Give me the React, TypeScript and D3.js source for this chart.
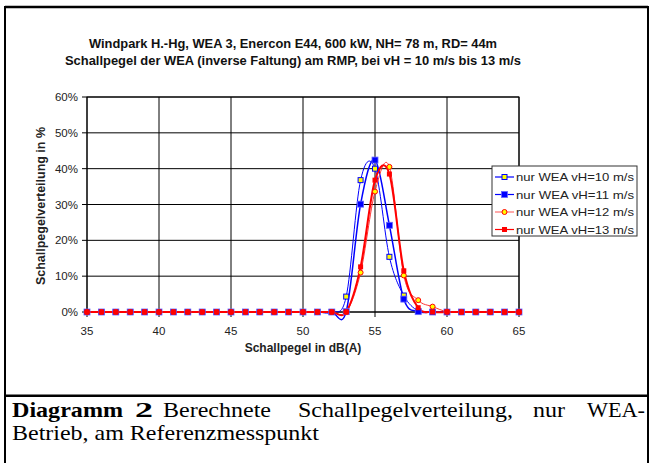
import React from "react";
import * as d3 from "d3";

const levels = [35, 36, 37, 38, 39, 40, 41, 42, 43, 44, 45, 46, 47, 48, 49, 50, 51, 52, 53, 54, 55, 56, 57, 58, 59, 60, 61, 62, 63, 64, 65];
const s10 = [0, 0, 0, 0, 0, 0, 0, 0, 0, 0, 0, 0, 0, 0, 0, 0, 0, 0, 4.3, 36.8, 40.0, 15.4, 4.6, 0.3, 0, 0, 0, 0, 0, 0, 0];
const s11 = [0, 0, 0, 0, 0, 0, 0, 0, 0, 0, 0, 0, 0, 0, 0, 0, 0, 0, 0.1, 30.1, 42.4, 24.2, 3.6, 0.1, 0, 0, 0, 0, 0, 0, 0];
const s12 = [0, 0, 0, 0, 0, 0, 0, 0, 0, 0, 0, 0, 0, 0, 0, 0, 0, 0, 0, 11.0, 33.6, 40.5, 10.2, 3.3, 1.5, 0.1, 0, 0, 0, 0, 0];
const s13 = [0, 0, 0, 0, 0, 0, 0, 0, 0, 0, 0, 0, 0, 0, 0, 0, 0, 0, 0, 12.6, 36.8, 38.5, 11.5, 1.2, 0, 0, 0, 0, 0, 0, 0];
const seriesNames = ["nur WEA vH=10 m/s", "nur WEA vH=11 m/s", "nur WEA vH=12 m/s", "nur WEA vH=13 m/s"];
const xTicks = [35, 40, 45, 50, 55, 60, 65];
const yTicks = [0, 10, 20, 30, 40, 50, 60];
const titleLines = [
  "Windpark H.-Hg, WEA 3, Enercon E44, 600 kW, NH= 78 m, RD= 44m",
  "Schallpegel der WEA (inverse Faltung) am RMP, bei vH = 10 m/s bis 13 m/s",
];
const xTitle = "Schallpegel in dB(A)";
const yTitle = "Schallpegelverteilung in %";

const SANS = "Liberation Sans, Arial, sans-serif";
const SERIF = "Liberation Serif, Times New Roman, Times, Tinos, serif";

type Style = { color: string; width: number; marker: "sqOpen" | "sqFill" | "circOpen" | "sqRed" };
const styles: Style[] = [
  { color: "#0000ff", width: 1, marker: "sqOpen" },
  { color: "#0000ff", width: 1.5, marker: "sqFill" },
  { color: "#ff3333", width: 1, marker: "circOpen" },
  { color: "#ff0000", width: 2, marker: "sqRed" },
];

function Marker({ kind, cx, cy }: { kind: Style["marker"]; cx: number; cy: number }) {
  if (kind === "sqOpen")
    return <rect x={cx - 2.5} y={cy - 2.5} width={5} height={5} fill="#ffff00" stroke="#0000ff" strokeWidth={1} />;
  if (kind === "sqFill")
    return <rect x={cx - 3} y={cy - 3} width={6} height={6} fill="#0000ff" stroke="#6666ff" strokeWidth={0.8} />;
  if (kind === "circOpen")
    return <circle cx={cx} cy={cy} r={2.5} fill="#ffff00" stroke="#ff0000" strokeWidth={1} />;
  return <rect x={cx - 2.5} y={cy - 2.5} width={5} height={5} fill="#ff0000" />;
}

export default function App() {
  const x = d3.scaleLinear().domain([35, 65]).range([87, 519]);
  const y = d3.scaleLinear().domain([0, 60]).range([312, 97]);
  const all = [s10, s11, s12, s13];
  const line = d3
    .line<number>()
    .x((_, i) => x(levels[i]))
    .y((d) => y(d))
    .curve(d3.curveCardinal.tension(0));

  const legendRows = [177, 194.5, 212, 229.5];

  return (
    <svg width={650} height={463} style={{ position: "absolute", left: 0, top: 0, background: "#fff" }}>
      <rect x={0} y={0} width={650} height={463} fill="#fff" />
      {/* frame */}
      <line x1={5} y1={7} x2={648} y2={7} stroke="#000" strokeWidth={2.5} />
      <line x1={5} y1={6} x2={5} y2={463} stroke="#000" strokeWidth={2} />
      <line x1={648} y1={6} x2={648} y2={463} stroke="#000" strokeWidth={2} />
      <line x1={5} y1={395.7} x2={648} y2={395.7} stroke="#000" strokeWidth={2.5} />

      {/* title */}
      {titleLines.map((t, i) => (
        <text
          key={i}
          x={293}
          y={[48, 65][i]}
          textAnchor="middle"
          fontFamily={SANS}
          fontWeight="bold"
          fontSize={12}
          fill="#111"
          textLength={[408, 456][i]}
          lengthAdjust="spacingAndGlyphs"
        >
          {t}
        </text>
      ))}

      {/* plot area */}
      <rect x={87} y={97} width={432} height={215} fill="#fff" stroke="#000" strokeWidth={1} />
      {yTicks.map((t) => (
        <g key={"y" + t}>
          <line x1={82} x2={519} y1={y(t)} y2={y(t)} stroke="#000" strokeWidth={1} />
          <text x={78} y={y(t) + 4} textAnchor="end" fontFamily={SANS} fontSize={11.5} fill="#222">
            {t + "%"}
          </text>
        </g>
      ))}
      {xTicks.map((t) => (
        <g key={"x" + t}>
          <line x1={x(t)} x2={x(t)} y1={97} y2={317} stroke="#000" strokeWidth={1} />
          <text x={x(t)} y={335} textAnchor="middle" fontFamily={SANS} fontSize={11.5} fill="#222">
            {t}
          </text>
        </g>
      ))}
      <text x={303} y={352} textAnchor="middle" fontFamily={SANS} fontWeight="bold" fontSize={12} fill="#222">
        {xTitle}
      </text>
      <text
        transform="translate(45,206) rotate(-90)"
        textAnchor="middle"
        fontFamily={SANS}
        fontWeight="bold"
        fontSize={12}
        fill="#222"
        textLength={158}
        lengthAdjust="spacingAndGlyphs"
      >
        {yTitle}
      </text>

      {/* series */}
      {all.map((s, si) => (
        <g key={"s" + si}>
          <path d={line(s) || ""} fill="none" stroke={styles[si].color} strokeWidth={styles[si].width} />
        </g>
      ))}
      {all.map((s, si) => (
        <g key={"m" + si}>
          {s.map((v, i) => (
            <Marker key={i} kind={styles[si].marker} cx={x(levels[i])} cy={y(v)} />
          ))}
        </g>
      ))}

      {/* legend */}
      <rect x={492} y={166} width={145} height={70} fill="#fff" stroke="#333" strokeWidth={1} />
      {seriesNames.map((n, i) => (
        <g key={"l" + i}>
          <line x1={495} x2={514} y1={legendRows[i]} y2={legendRows[i]} stroke={i === 2 ? "#ff7070" : styles[i].color} strokeWidth={1.2} />
          <Marker kind={styles[i].marker} cx={504.5} cy={legendRows[i]} />
          <text
            x={516}
            y={legendRows[i] + 4}
            fontFamily={SANS}
            fontSize={11.5}
            fill="#222"
            textLength={118}
            lengthAdjust="spacingAndGlyphs"
          >
            {n}
          </text>
        </g>
      ))}

      {/* caption */}
      {[
        { t: "Diagramm", x: 12, w: 111, b: true },
        { t: "2", x: 135, w: 18, b: true },
        { t: "Berechnete", x: 163, w: 108, b: false },
        { t: "Schallpegelverteilung,", x: 298, w: 215, b: false },
        { t: "nur", x: 533, w: 32, b: false },
        { t: "WEA-", x: 587, w: 58, b: false },
      ].map((w, i) => (
        <text
          key={"c" + i}
          x={w.x}
          y={417}
          fontFamily={SERIF}
          fontSize={21}
          fontWeight={w.b ? "bold" : "normal"}
          textLength={w.w}
          lengthAdjust="spacingAndGlyphs"
        >
          {w.t}
        </text>
      ))}
      <text x={12} y={440} fontFamily={SERIF} fontSize={21} textLength={307} lengthAdjust="spacingAndGlyphs">
        Betrieb, am Referenzmesspunkt
      </text>
    </svg>
  );
}
